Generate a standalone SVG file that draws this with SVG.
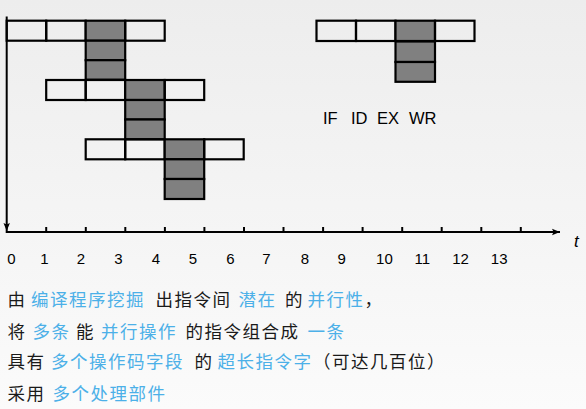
<svg xmlns="http://www.w3.org/2000/svg" width="586" height="409" viewBox="0 0 586 409">
  <defs>
    <linearGradient id="bg" x1="0" y1="0" x2="0" y2="1">
      <stop offset="0" stop-color="#ededed"/>
      <stop offset="1" stop-color="#fbfbfb"/>
    </linearGradient>
    <marker id="arr" viewBox="0 0 10 10" refX="10" refY="5" markerWidth="8" markerHeight="8" markerUnits="userSpaceOnUse" orient="auto">
      <path d="M0,1 L10,5 L0,9 L2,5 Z" fill="#000"/>
    </marker>
    <style>
      .c { fill: none; stroke: #000; stroke-width: 2.2; }
      .g { fill: #808080; stroke: #000; stroke-width: 2.2; }
      .ax { stroke: #000; stroke-width: 2; fill: none; }
      .tk { stroke: #000; stroke-width: 2; }
      .num { font-family: "Liberation Sans", Arial, sans-serif; font-size: 15px; fill: #000; text-anchor: middle; }
      .lbl { font-family: "Liberation Sans", Arial, sans-serif; font-size: 16.5px; fill: #000; }
      .zh { font-family: "Noto Sans CJK SC", sans-serif; font-size: 17.5px; letter-spacing: 1.5px; }
      .d { fill: #1a1a1a; }
      .b { fill: #4cb0e8; }
    </style>
  </defs>
  <rect x="0" y="0" width="586" height="409" fill="url(#bg)"/>

  <g id="instr1">
    <rect class="c" x="6.7" y="20.7" width="39.5" height="20"/>
    <rect class="c" x="46.2" y="20.7" width="39.5" height="20"/>
    <rect class="g" x="85.7" y="20.7" width="39.5" height="20"/>
    <rect class="g" x="85.7" y="40.7" width="39.5" height="19.5"/>
    <rect class="g" x="85.7" y="60.2" width="39.5" height="19.5"/>
    <rect class="c" x="125.2" y="20.7" width="39.5" height="20"/>
  </g>
  <g id="instr2">
    <rect class="c" x="46.2" y="80" width="39.5" height="20"/>
    <rect class="c" x="85.7" y="80" width="39.5" height="20"/>
    <rect class="g" x="125.2" y="80" width="39.5" height="20"/>
    <rect class="g" x="125.2" y="100" width="39.5" height="19.5"/>
    <rect class="g" x="125.2" y="119.5" width="39.5" height="19.8"/>
    <rect class="c" x="164.7" y="80" width="39.5" height="20"/>
  </g>
  <g id="instr3">
    <rect class="c" x="85.7" y="139.3" width="39.5" height="20"/>
    <rect class="c" x="125.2" y="139.3" width="39.5" height="20"/>
    <rect class="g" x="164.7" y="139.3" width="39.5" height="20"/>
    <rect class="g" x="164.7" y="159.3" width="39.5" height="19.7"/>
    <rect class="g" x="164.7" y="179" width="39.5" height="20"/>
    <rect class="c" x="204.2" y="139.3" width="39.5" height="20"/>
  </g>
  <g id="legend">
    <rect class="c" x="316.5" y="20.7" width="39.5" height="20.3"/>
    <rect class="c" x="356" y="20.7" width="39.5" height="20.3"/>
    <rect class="g" x="395.5" y="20.7" width="39.5" height="20.3"/>
    <rect class="g" x="395.5" y="41.5" width="39.5" height="20.5"/>
    <rect class="g" x="395.5" y="62" width="39.5" height="19.8"/>
    <rect class="c" x="435" y="20.7" width="39.5" height="20.3"/>
    <text class="lbl" x="323" y="124.3">IF</text>
    <text class="lbl" x="351" y="124.3">ID</text>
    <text class="lbl" x="377" y="124.3">EX</text>
    <text class="lbl" x="409" y="124.3">WR</text>
  </g>

  <g id="connectors">
    <line class="ax" x1="6.7" y1="16.5" x2="6.7" y2="231" marker-end="url(#arr)"/>
    <line class="ax" x1="5.7" y1="232" x2="560" y2="232" marker-end="url(#arr)"/>
    <g class="tk">
      <line x1="46.2" y1="227" x2="46.2" y2="232"/>
      <line x1="85.8" y1="227" x2="85.8" y2="232"/>
      <line x1="125.3" y1="227" x2="125.3" y2="232"/>
      <line x1="164.9" y1="227" x2="164.9" y2="232"/>
      <line x1="204.4" y1="227" x2="204.4" y2="232"/>
      <line x1="244" y1="227" x2="244" y2="232"/>
      <line x1="283.5" y1="227" x2="283.5" y2="232"/>
      <line x1="323.1" y1="227" x2="323.1" y2="232"/>
      <line x1="362.6" y1="227" x2="362.6" y2="232"/>
      <line x1="402.2" y1="227" x2="402.2" y2="232"/>
      <line x1="441.7" y1="227" x2="441.7" y2="232"/>
      <line x1="481.3" y1="227" x2="481.3" y2="232"/>
      <line x1="520.8" y1="227" x2="520.8" y2="232"/>
    </g>
  </g>

  <g id="axis-labels">
    <text class="num" x="11.4" y="263.5">0</text>
    <text class="num" x="44.3" y="263.5">1</text>
    <text class="num" x="80.9" y="263.5">2</text>
    <text class="num" x="118.3" y="263.5">3</text>
    <text class="num" x="155.8" y="263.5">4</text>
    <text class="num" x="193" y="263.5">5</text>
    <text class="num" x="230.4" y="263.5">6</text>
    <text class="num" x="266.4" y="263.5">7</text>
    <text class="num" x="305" y="263.5">8</text>
    <text class="num" x="341.7" y="263.5">9</text>
    <text class="num" x="384.4" y="263.5">10</text>
    <text class="num" x="422.3" y="263.5">11</text>
    <text class="num" x="460.6" y="263.5">12</text>
    <text class="num" x="499.2" y="263.5">13</text>
    <text x="574" y="247" font-family="Liberation Sans, Arial, sans-serif" font-size="17" font-style="italic" fill="#000">t</text>
  </g>

  <g id="notes" class="zh">
    <text y="305.5"><tspan class="d" x="7.5">由</tspan><tspan class="b" x="31">编译程序挖掘</tspan><tspan class="d" x="155.5">出指令间</tspan><tspan class="b" x="238.5">潜在</tspan><tspan class="d" x="285">的</tspan><tspan class="b" x="307.5">并行性</tspan><tspan class="d" x="364.5">，</tspan></text>
    <text y="337.5"><tspan class="d" x="7.5">将</tspan><tspan class="b" x="32.5">多条</tspan><tspan class="d" x="76">能</tspan><tspan class="b" x="101">并行操作</tspan><tspan class="d" x="185.5">的指令组合成</tspan><tspan class="b" x="307.5">一条</tspan></text>
    <text y="367.5"><tspan class="d" x="7.5">具有</tspan><tspan class="b" x="51">多个操作码字段</tspan><tspan class="d" x="194.5">的</tspan><tspan class="b" x="217.5">超长指令字</tspan><tspan class="d" x="313">（可达几百位）</tspan></text>
    <text y="399.5"><tspan class="d" x="7.5">采用</tspan><tspan class="b" x="52.5">多个处理部件</tspan></text>
  </g>
</svg>
